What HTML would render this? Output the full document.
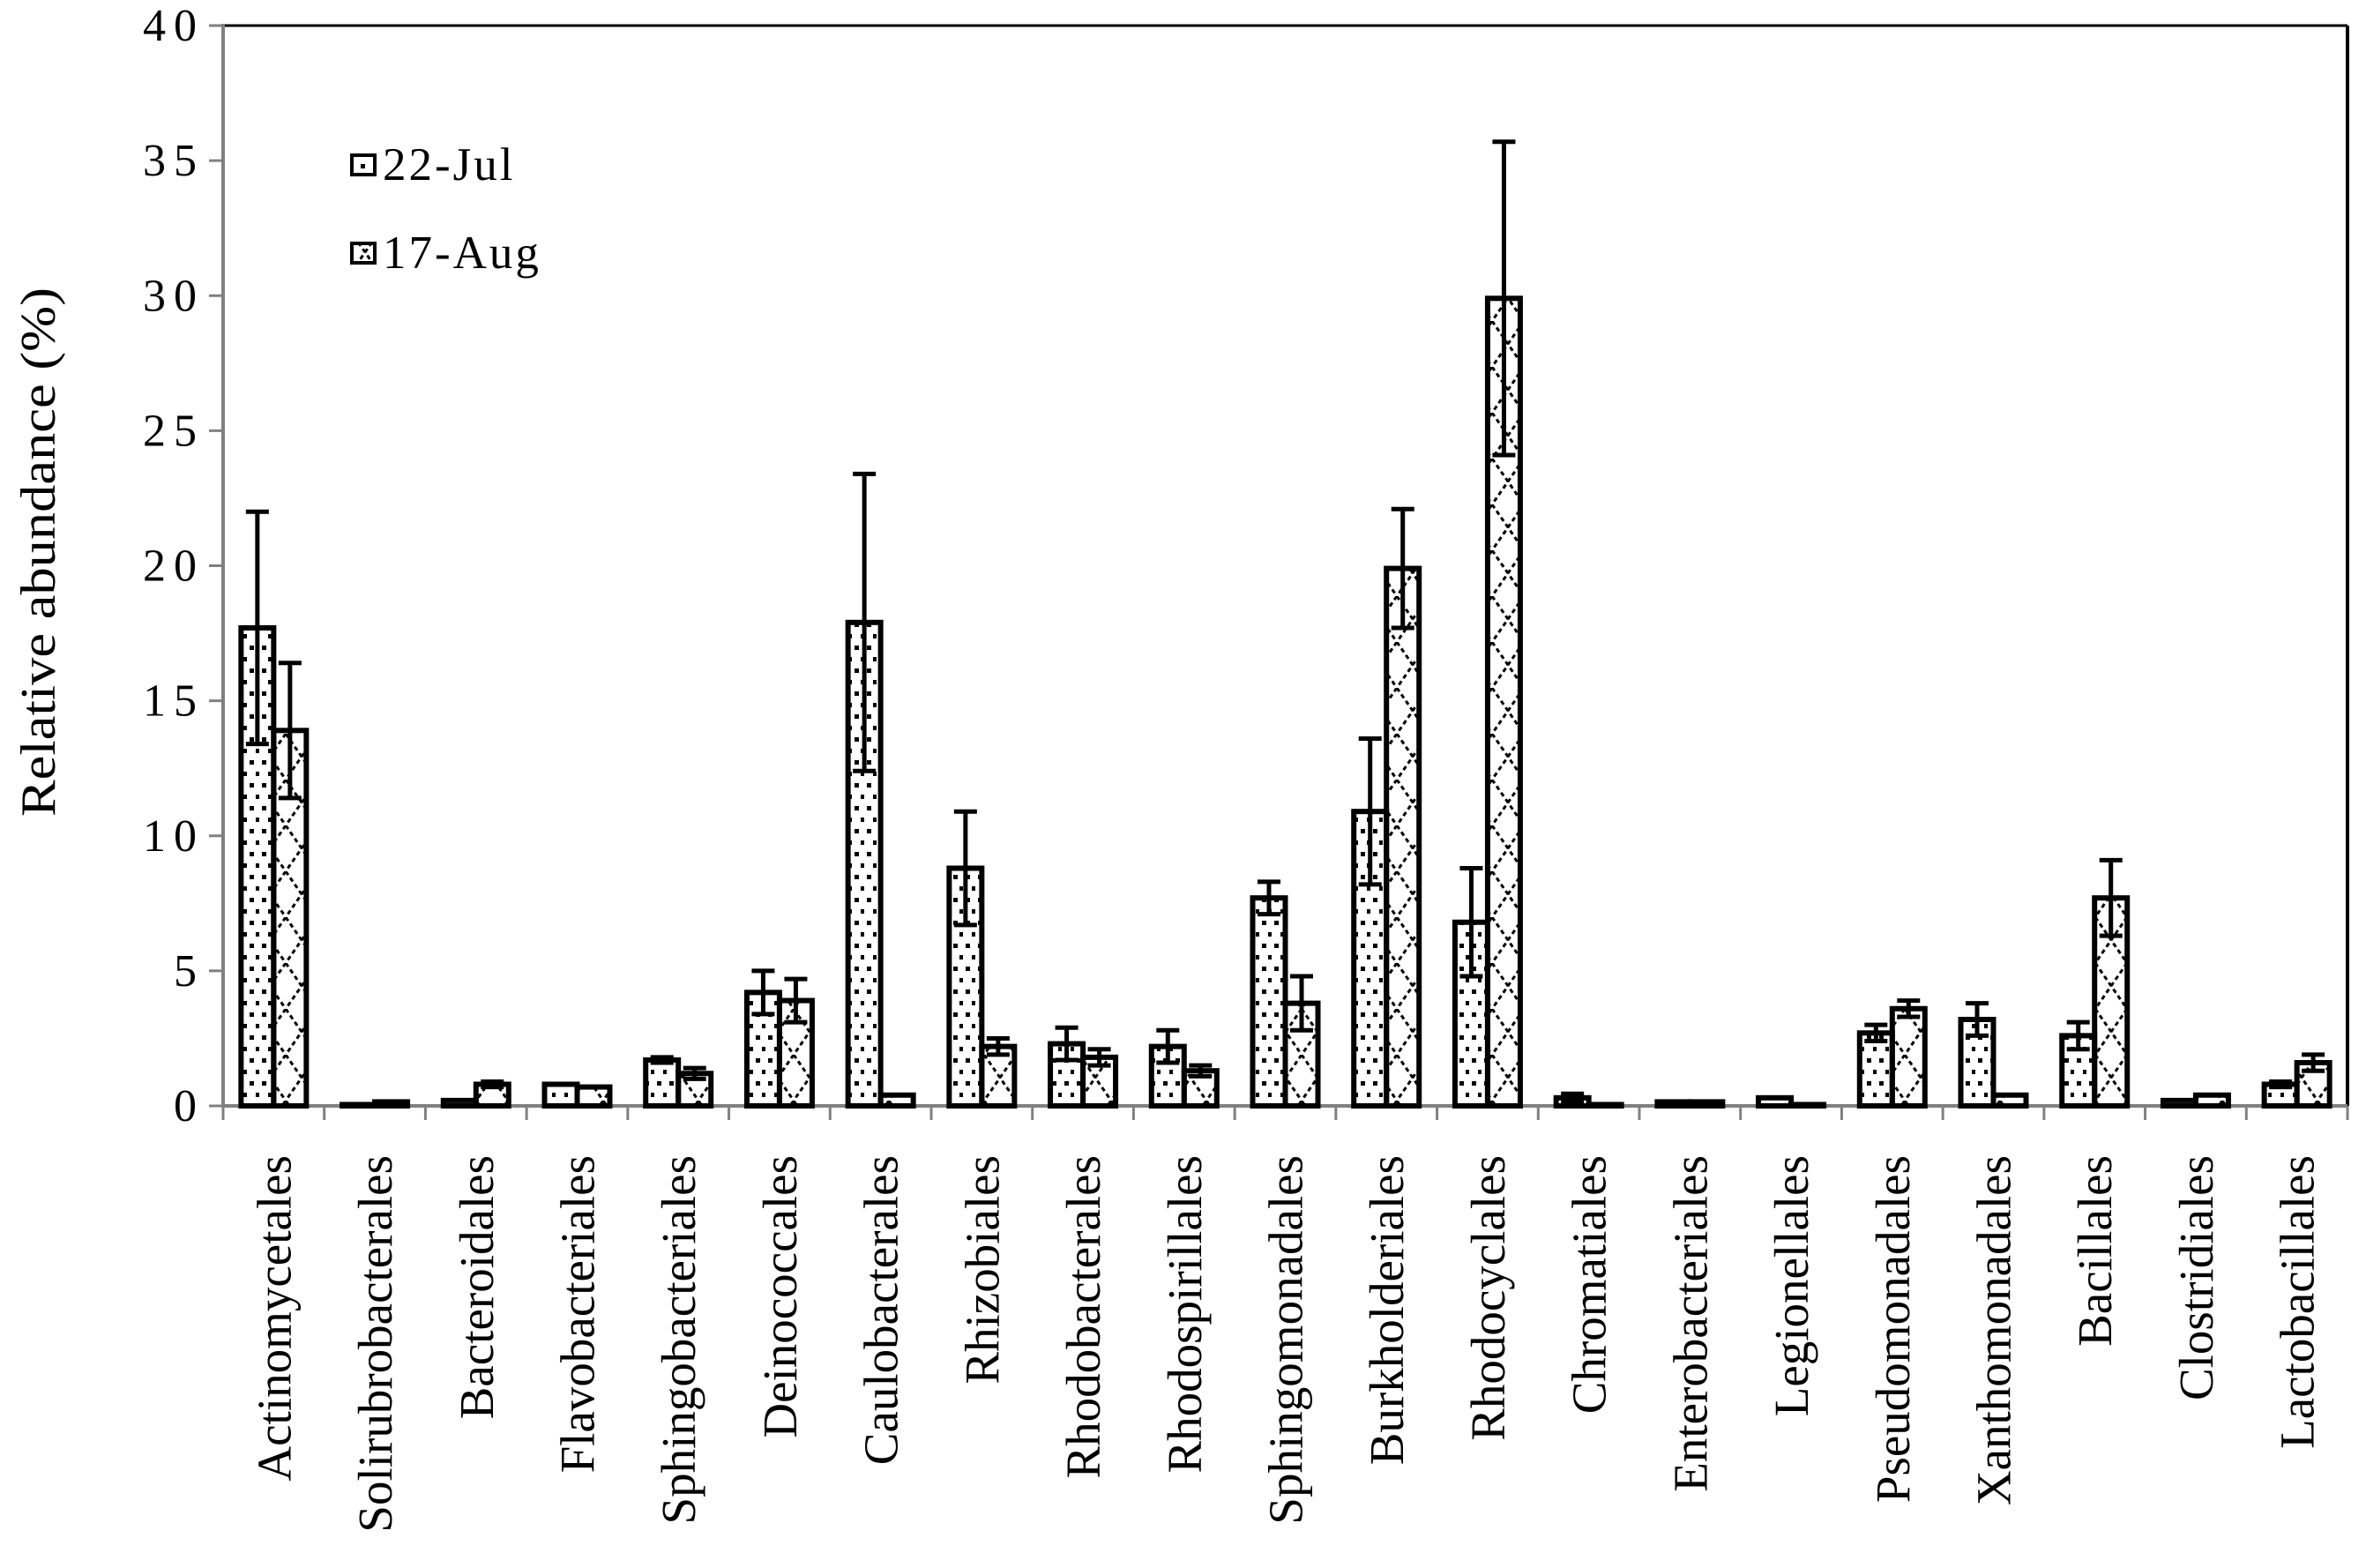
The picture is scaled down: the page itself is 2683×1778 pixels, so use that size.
<!DOCTYPE html>
<html><head><meta charset="utf-8"><style>
html,body{margin:0;padding:0;background:#fff;}
svg{display:block;font-family:"Liberation Serif",serif;}
text{font-family:"Liberation Serif",serif;}
</style></head><body>
<svg id="chart" width="2683" height="1778" viewBox="0 0 2683 1778" xmlns="http://www.w3.org/2000/svg">
<defs>
<pattern id="dots" width="14" height="26" patternUnits="userSpaceOnUse">
<rect x="3" y="4" width="5" height="5" fill="#000"/><rect x="10" y="17" width="5" height="5" fill="#000"/>
</pattern>
<pattern id="cross" width="36" height="52" patternUnits="userSpaceOnUse">
<path d="M0 0 L36 52 M36 0 L0 52" stroke="#000" stroke-width="3" stroke-dasharray="5 4" fill="none"/>
</pattern>
</defs>
<g id="plot"></g>
</svg>
<script>
const categories=["Actinomycetales","Solirubrobacterales","Bacteroidales","Flavobacteriales","Sphingobacteriales","Deinococcales","Caulobacterales","Rhizobiales","Rhodobacterales","Rhodospirillales","Sphingomonadales","Burkholderiales","Rhodocyclales","Chromatiales","Enterobacteriales","Legionellales","Pseudomonadales","Xanthomonadales","Bacillales","Clostridiales","Lactobacillales"];
const julValues=[17.7,0.05,0.2,0.8,1.7,4.2,17.9,8.8,2.3,2.2,7.7,10.9,6.8,0.3,0.15,0.3,2.7,3.2,2.6,0.2,0.8];
const julErrors=[4.3,0,0,0,0.1,0.8,5.5,2.1,0.6,0.6,0.6,2.7,2.0,0.15,0,0,0.3,0.6,0.5,0,0.1];
const augValues=[13.9,0.15,0.8,0.7,1.2,3.9,0.4,2.2,1.8,1.3,3.8,19.9,29.9,0.05,0.15,0.05,3.6,0.4,7.7,0.4,1.6];
const augErrors=[2.5,0,0.1,0,0.2,0.8,0,0.3,0.3,0.2,1.0,2.2,5.8,0,0,0,0.3,0,1.4,0,0.3];
const yTicks=[0,5,10,15,20,25,30,35,40];
const seriesNames=["22-Jul","17-Aug"];

const NS="http://www.w3.org/2000/svg";
const g=document.getElementById('plot');
const X0=253,X1=2662,Y0=1254,YT=29,YMAX=40;
const cw=(X1-X0)/categories.length;
const y=v=>Y0-(v/YMAX)*(Y0-YT);
const xc=i=>X0+cw*(i+0.5);
function el(t,a,p){const e=document.createElementNS(NS,t);for(const k in a)e.setAttribute(k,a[k]);(p||g).appendChild(e);return e;}

let f=el('line',{x1:X0,y1:YT,x2:X1,y2:YT,stroke:'#000','stroke-width':3});


f=el('line',{x1:X1,y1:YT,x2:X1,y2:Y0,stroke:'#000','stroke-width':4});



let ya=el('line',{x1:X0,y1:YT-2,x2:X0,y2:Y0+2,stroke:'#808080','stroke-width':4});


yTicks.forEach(t=>{
 const tk=el('line',{x1:X0-16,y1:y(t),x2:X0,y2:y(t),stroke:'#808080','stroke-width':3});
 
 
 const tx=el('text',{x:232,y:y(t)+17,'text-anchor':'end','font-size':52,'letter-spacing':'9'});
 tx.textContent=t;
 
 
});
const yt=el('text',{transform:'translate(62,626) rotate(-90)','text-anchor':'middle','font-size':56,textLength:600,lengthAdjust:'spacingAndGlyphs'});
yt.textContent='Relative abundance (%)';



const xa=el('line',{x1:X0,y1:Y0,x2:X1,y2:Y0,stroke:'#808080','stroke-width':4});


for(let i=0;i<=categories.length;i++){
 const tk=el('line',{x1:X0+cw*i,y1:Y0,x2:X0+cw*i,y2:Y0+16,stroke:'#808080','stroke-width':3});
 
 
}
const BW=37;
categories.forEach((c,i)=>{
 const cx=xc(i);
 [[julValues,julErrors,'url(#dots)',cx-BW],[augValues,augErrors,'url(#cross)',cx]].forEach((s,k)=>{
  const v=s[0][i],e=s[1][i],bx=s[3];
  const r=el('rect',{x:bx,y:y(v),width:BW,height:Math.max(Y0-y(v),1),fill:s[2],stroke:'#000','stroke-width':6});
  
  
  if(e>0){
   const ex=bx+BW/2;
   const eb=el('path',{d:`M${ex} ${y(v-e)} L${ex} ${y(v+e)} M${ex-13} ${y(v+e)} L${ex+13} ${y(v+e)} M${ex-13} ${y(v-e)} L${ex+13} ${y(v-e)}`,stroke:'#000','stroke-width':5,fill:'none'});
   
   
  }
 });
 const lb=el('text',{transform:`translate(${cx+19},1310) rotate(-90)`,'text-anchor':'end','font-size':55});
 lb.textContent=c;
 
 
});

[['url(#dots)',195],['url(#cross)',295]].forEach((l,k)=>{
 const sw=el('rect',{x:399,y:l[1]-19,width:26,height:22,fill:l[0],stroke:'#000','stroke-width':4});
 
 
 const lt=el('text',{x:434,y:l[1]+9,'font-size':53,'letter-spacing':'3'});
 lt.textContent=seriesNames[k];
 
 
});
</script>
</body></html>
